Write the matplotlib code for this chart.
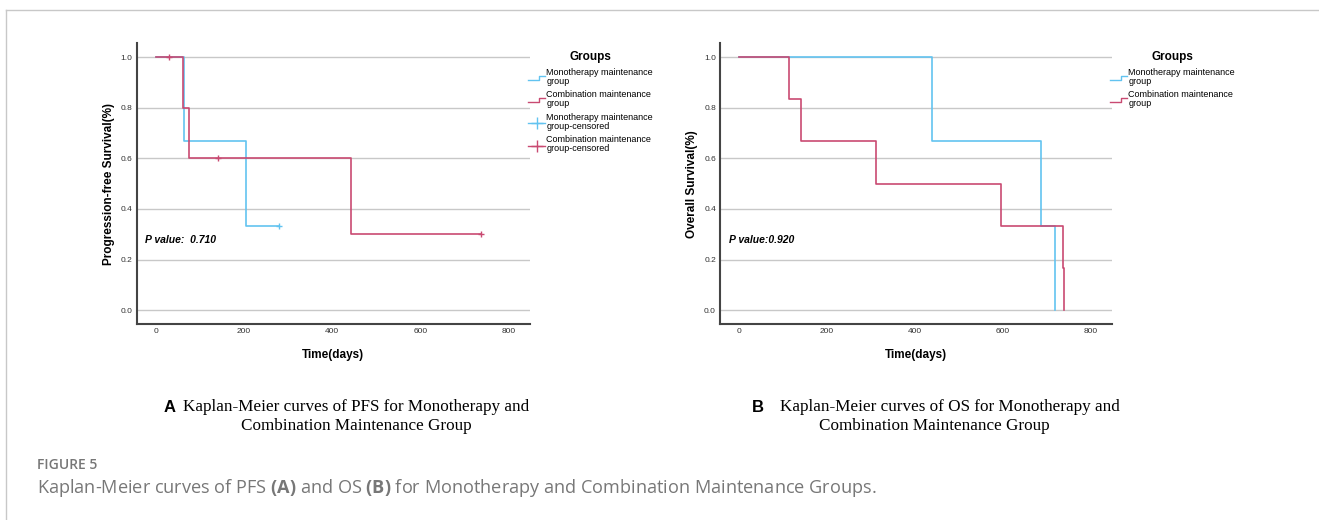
import matplotlib.pyplot as plt
from matplotlib.lines import Line2D
from matplotlib.legend_handler import HandlerBase

plt.rcParams["font.family"] = ["Liberation Sans", "DejaVu Sans"]
plt.rcParams["mathtext.fontset"] = "custom"
plt.rcParams["mathtext.rm"] = "Open Sans"
plt.rcParams["mathtext.bf"] = "Open Sans:bold"

# PFS (panel A)
pfs_mono_t = [0, 64, 204, 279]
pfs_mono_s = [1.0, 0.667, 0.333, 0.333]
pfs_mono_cens_t = [279]
pfs_mono_cens_s = [0.333]
pfs_comb_t = [0, 61, 75, 442, 737]
pfs_comb_s = [1.0, 0.8, 0.6, 0.3, 0.3]
pfs_comb_cens_t = [30, 142, 737]
pfs_comb_cens_s = [1.0, 0.6, 0.3]

# OS (panel B)
os_mono_t = [0, 438, 686, 719]
os_mono_s = [1.0, 0.667, 0.333, 0.0]
os_comb_t = [0, 114, 141, 311, 595, 736, 739]
os_comb_s = [1.0, 0.833, 0.667, 0.5, 0.333, 0.167, 0.0]

xticks = [0, 200, 400, 600, 800]
yticks = [0.0, 0.2, 0.4, 0.6, 0.8, 1.0]

labels = [
    "Monotherapy maintenance\ngroup",
    "Combination maintenance\ngroup",
    "Monotherapy maintenance\ngroup-censored",
    "Combination maintenance\ngroup-censored",
]

blue = "#62c3f0"
red = "#c94a72"
grid = "#c8c8c8"


class StepHandler(HandlerBase):
    # little step icon like the SPSS legend
    def create_artists(self, legend, orig_handle, xdescent, ydescent, width, height, fontsize, trans):
        c = orig_handle.get_color()
        y0 = height * 0.1 - ydescent
        y1 = height * 0.75 - ydescent
        xs = [-xdescent, -xdescent + width * 0.6, -xdescent + width * 0.6, -xdescent + width]
        ys = [y0, y0, y1, y1]
        return [Line2D(xs, ys, color=c, lw=1, transform=trans)]


class CensorHandler(HandlerBase):
    def create_artists(self, legend, orig_handle, xdescent, ydescent, width, height, fontsize, trans):
        c = orig_handle.get_color()
        y = height * 0.3 - ydescent
        ln = Line2D([-xdescent, -xdescent + width], [y, y], color=c, lw=1, transform=trans)
        mk = Line2D([-xdescent + width / 2], [y], color=c, marker="+", ms=8, mew=1, ls="none",
                    transform=trans)
        return [ln, mk]


fig = plt.figure(figsize=(13.19, 5.20), dpi=100)

# thin page frame
fig.add_artist(Line2D([6 / 1319, 1], [1 - 9.5 / 520, 1 - 9.5 / 520], color="#c8c8c8", lw=1))
fig.add_artist(Line2D([6 / 1319, 6 / 1319], [0, 1 - 9.5 / 520], color="#c8c8c8", lw=1))


def setup_axes(ax, ylabel, ptext):
    ax.set_xlim(-43, 848)
    ax.set_ylim(-0.055, 1.055)
    for y in yticks:
        ax.axhline(y, color=grid, lw=1, zorder=0)
    ax.spines["top"].set_visible(False)
    ax.spines["right"].set_visible(False)
    ax.spines["left"].set_color("#444444")
    ax.spines["bottom"].set_color("#444444")
    ax.spines["left"].set_linewidth(1.5)
    ax.spines["bottom"].set_linewidth(1.5)
    ax.set_xticks(xticks)
    ax.set_yticks(yticks)
    ax.set_yticklabels([f"{y:.1f}" for y in yticks])
    ax.tick_params(length=0, labelsize=6, labelcolor="#333333", pad=3)
    ax.set_xlabel("Time(days)", fontsize=8.5, fontweight="bold", labelpad=10)
    ax.set_ylabel(ylabel, fontsize=8.5, fontweight="bold", labelpad=4)
    ax.text(0.022, 0.3, ptext, transform=ax.transAxes, fontsize=7.5,
            fontweight="bold", fontstyle="italic", va="center")


def add_legend(handles, handler_map, x):
    leg = fig.legend(handles, labels[:len(handles)], loc="upper left",
                     bbox_to_anchor=(x / 1319, 1 - 45 / 520), handler_map=handler_map,
                     frameon=False, fontsize=6.5, handlelength=1.9, handletextpad=0.1,
                     labelspacing=0.5, borderpad=0.2, title="Groups",
                     title_fontproperties={"weight": "bold", "size": 8.5})
    for t in leg.get_texts():
        t.set_linespacing(1.0)
    return leg


axA = fig.add_axes([0.1036, 0.3769, 0.2982, 0.5398])
axA.step(pfs_mono_t, pfs_mono_s, where="post", color=blue, lw=1.2)
axA.step(pfs_comb_t, pfs_comb_s, where="post", color=red, lw=1.2)
axA.plot(pfs_mono_cens_t, pfs_mono_cens_s, "+", color=blue, ms=5, mew=1)
axA.plot(pfs_comb_cens_t, pfs_comb_cens_s, "+", color=red, ms=5, mew=1)
setup_axes(axA, "Progression-free Survival(%)", "P value:  0.710")

axB = fig.add_axes([0.5459, 0.3769, 0.2972, 0.5398])
axB.step(os_mono_t, os_mono_s, where="post", color=blue, lw=1.2)
axB.step(os_comb_t, os_comb_s, where="post", color=red, lw=1.2)
setup_axes(axB, "Overall Survival(%)", "P value:0.920")

hm = Line2D([], [], color=blue)
hc = Line2D([], [], color=red)
hmc = Line2D([], [], color=blue, marker="+")
hcc = Line2D([], [], color=red, marker="+")
add_legend([hm, hc, hmc, hcc],
           {hm: StepHandler(), hc: StepHandler(), hmc: CensorHandler(), hcc: CensorHandler()}, 522)
add_legend([hm, hc], {hm: StepHandler(), hc: StepHandler()}, 1104)

# panel subcaptions
serif = "Liberation Serif"
fig.text(164 / 1319, 1 - 407 / 520, "A", fontsize=12, fontweight="bold", va="center")
fig.text(183 / 1319, 1 - 407 / 520, "Kaplan-Meier curves of PFS for Monotherapy and",
         fontsize=12.3, family=serif, va="center")
fig.text(356 / 1319, 1 - 426 / 520, "Combination Maintenance Group",
         fontsize=12.3, family=serif, va="center", ha="center")
fig.text(752 / 1319, 1 - 407 / 520, "B", fontsize=12, fontweight="bold", va="center")
fig.text(780 / 1319, 1 - 407 / 520, "Kaplan-Meier curves of OS for Monotherapy and",
         fontsize=12.3, family=serif, va="center")
fig.text(934 / 1319, 1 - 426 / 520, "Combination Maintenance Group",
         fontsize=12.3, family=serif, va="center", ha="center")

# figure caption
fig.text(37 / 1319, 1 - 465 / 520, "FIGURE 5", fontsize=10, family="Open Sans",
         fontweight="semibold", color="#777777", va="center")
fig.text(37 / 1319, 1 - 488 / 520,
         r"Kaplan-Meier curves of PFS $\mathbf{(A)}$ and OS $\mathbf{(B)}$ for Monotherapy and Combination Maintenance Groups.",
         fontsize=13.1, family="Open Sans", color="#777777", va="center")

fig.savefig("out.png", dpi=100)
